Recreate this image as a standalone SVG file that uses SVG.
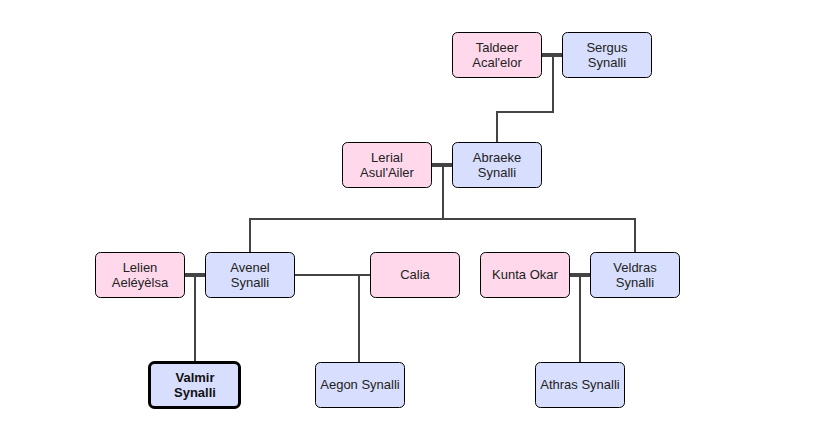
<svg xmlns="http://www.w3.org/2000/svg" width="826" height="437" viewBox="0 0 826 437">
<style>
.f{fill:#ffd8ec;stroke:#000;stroke-width:1}
.m{fill:#d8defd;stroke:#000;stroke-width:1}
.me{fill:#d8defd;stroke:#000;stroke-width:3}
text{font-family:"Liberation Sans",Arial,sans-serif;font-size:13px;fill:#222;text-anchor:middle}
.b{font-weight:bold;fill:#111}
.c{fill:none;stroke:#444;stroke-width:2}
.cp{fill:none;stroke:#444;stroke-width:4}
</style>
<rect width="826" height="437" fill="#fff"/>
<g id="connectors">
<line class="cp" x1="542" y1="55" x2="562" y2="55"/>
<polyline class="c" points="553,55 553,112 497,112 497,142"/>
<line class="cp" x1="432" y1="165" x2="452" y2="165"/>
<polyline class="c" points="443,165 443,219"/>
<polyline class="c" points="250,252 250,219 635,219 635,252"/>
<line class="cp" x1="185" y1="275" x2="205" y2="275"/>
<polyline class="c" points="195,275 195,361"/>
<line class="c" x1="294" y1="275" x2="370" y2="275"/>
<polyline class="c" points="359,275 359,362"/>
<line class="cp" x1="570" y1="275" x2="590" y2="275"/>
<polyline class="c" points="580,275 580,362"/>
</g>
<g id="taldeer"><rect class="f" x="452.5" y="32.5" width="89" height="45" rx="5"/><text x="497" y="52">Taldeer</text><text x="497" y="67">Acal'elor</text></g>
<g id="sergus"><rect class="m" x="562.5" y="32.5" width="89" height="45" rx="5"/><text x="607" y="52">Sergus</text><text x="607" y="67">Synalli</text></g>
<g id="lerial"><rect class="f" x="342.5" y="142.5" width="89" height="45" rx="5"/><text x="387" y="162">Lerial</text><text x="387" y="177">Asul'Ailer</text></g>
<g id="abraeke"><rect class="m" x="452.5" y="142.5" width="89" height="45" rx="5"/><text x="497" y="162">Abraeke</text><text x="497" y="177">Synalli</text></g>
<g id="lelien"><rect class="f" x="95.5" y="252.5" width="89" height="45" rx="5"/><text x="140" y="272">Lelien</text><text x="140" y="287">Aeléyèlsa</text></g>
<g id="avenel"><rect class="m" x="205.5" y="252.5" width="89" height="45" rx="5"/><text x="250" y="272">Avenel</text><text x="250" y="287">Synalli</text></g>
<g id="calia"><rect class="f" x="370.5" y="252.5" width="89" height="45" rx="5"/><text x="415" y="279">Calia</text></g>
<g id="kunta"><rect class="f" x="480.5" y="252.5" width="89" height="45" rx="5"/><text x="525" y="279">Kunta Okar</text></g>
<g id="veldras"><rect class="m" x="590.5" y="252.5" width="89" height="45" rx="5"/><text x="635" y="272">Veldras</text><text x="635" y="287">Synalli</text></g>
<g id="valmir"><rect class="me" x="149.5" y="362.5" width="90" height="45" rx="5"/><text class="b" x="195" y="382">Valmir</text><text class="b" x="195" y="397">Synalli</text></g>
<g id="aegon"><rect class="m" x="315.5" y="362.5" width="89" height="45" rx="5"/><text x="360" y="389">Aegon Synalli</text></g>
<g id="athras"><rect class="m" x="535.5" y="362.5" width="89" height="45" rx="5"/><text x="580" y="389">Athras Synalli</text></g>
</svg>
